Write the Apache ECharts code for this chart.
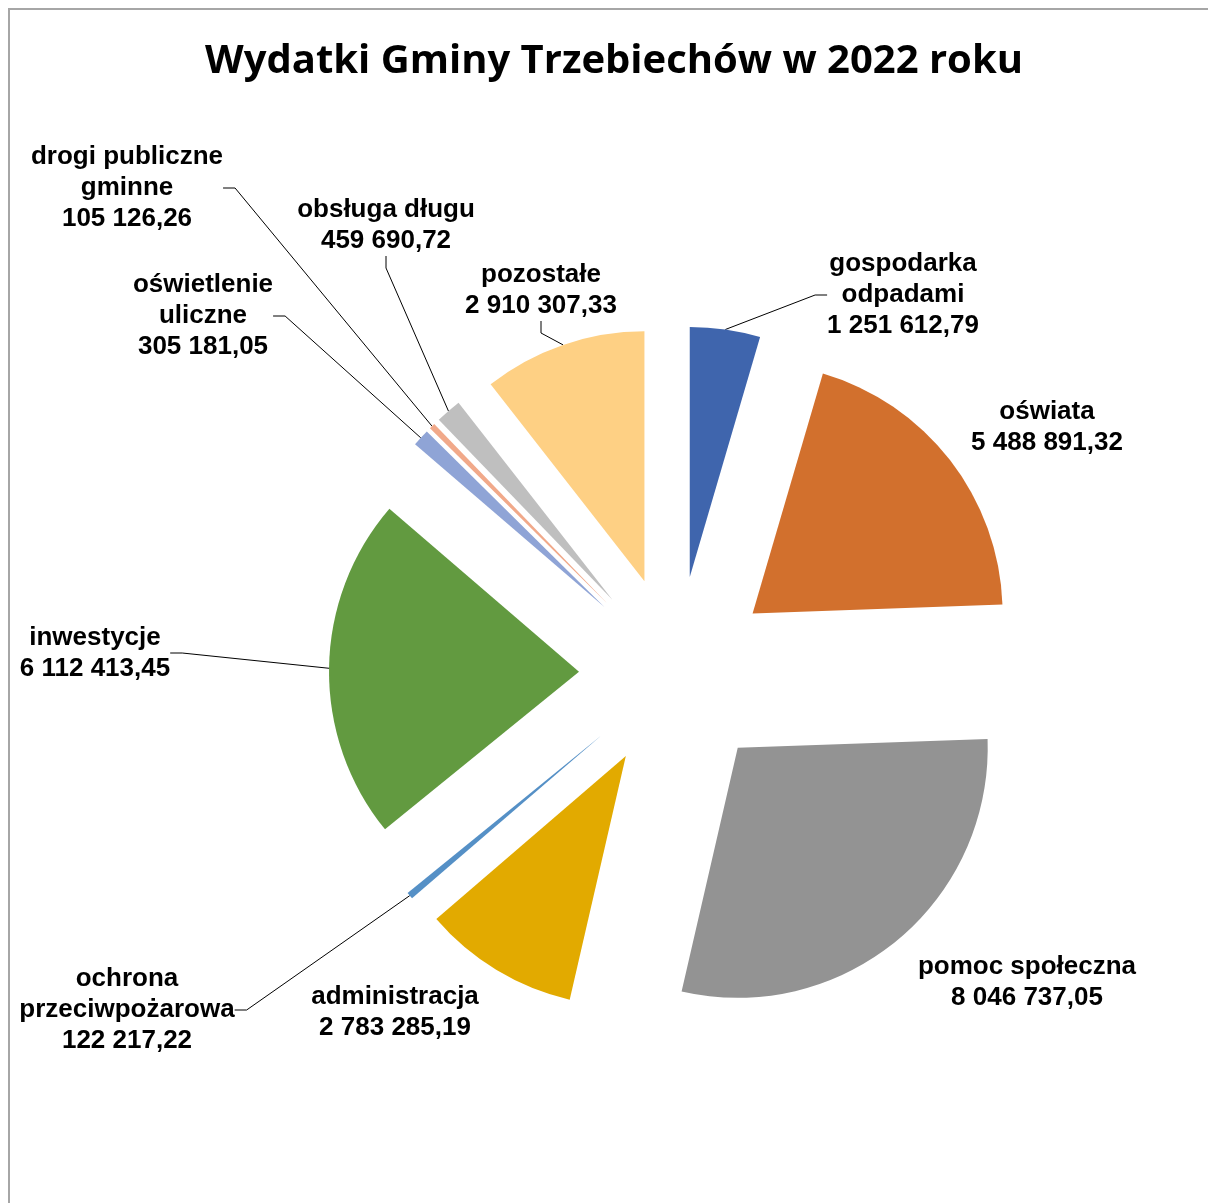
<!DOCTYPE html>
<html>
<head>
<meta charset="utf-8">
<script src="https://cdn.jsdelivr.net/npm/echarts@6/dist/echarts.min.js"></script>
<style>
html, body { margin: 0; padding: 0; background: #fff; }
#main { width: 1208px; height: 1203px; }
</style>
</head>
<body>
<div id="main"></div>
<script>
// dane wydatków (kolejność zgodnie z ruchem wskazówek zegara od godz. 12)
const categories = [
	'gospodarka\nodpadami',
	'oświata',
	'pomoc społeczna',
	'administracja',
	'ochrona\nprzeciwpożarowa',
	'inwestycje',
	'oświetlenie\nuliczne',
	'drogi publiczne\ngminne',
	'obsługa długu',
	'pozostałe'
];
const values = [
	1251612.79, 5488891.32, 8046737.05, 2783285.19, 122217.22,
	6112413.45, 305181.05, 105126.26, 459690.72, 2910307.33
];
const colors = [
	'#3f65ad', '#d2702d', '#939393', '#e2aa00', '#5590c6',
	'#629a40', '#8fa4d6', '#f1a98a', '#bfbfbf', '#fed084'
];

// środki bloków etykiet
const labelSpots = [
	[903, 295], [1047, 427], [1027, 982], [395, 1012], [127, 1010],
	[95, 653], [203, 316], [127, 188], [386, 225], [541, 290]
];
// etykiety bez linii odniesienia
const noLeader = [1, 2, 3];

const pieCenter = [676, 673];
const pieRadius = 250;
const explode = 97;

function fmt(v) {
	let parts = v.toFixed(2).split('.');
	return parts[0].replace(/\B(?=(\d{3})+(?!\d))/g, ' ') + ',' + parts[1];
}

/**
 * jeden wycinek = jedna seria, przesunięta wzdłuż dwusiecznej (explode)
 */
function sliceSeries(i, total, before) {
	let mid = (before + values[i] / 2) / total * Math.PI * 2;
	return {
		type: 'pie',
		center: [pieCenter[0] + explode * Math.sin(mid), pieCenter[1] - explode * Math.cos(mid)],
		radius: pieRadius,
		startAngle: 90,
		clockwise: true,
		avoidLabelOverlap: false,
		silent: true,
		emphasis: { disabled: true },
		data: categories.map(function(name, j) {
			let own = j === i;
			return {
				name: name,
				value: values[j],
				itemStyle: { color: own ? colors[j] : 'rgba(0,0,0,0)', borderWidth: 0 },
				label: { show: own },
				labelLine: { show: own && noLeader.indexOf(j) < 0 }
			};
		}),
		label: {
			position: 'outer',
			formatter: function(p) {
				return p.name + '\n' + fmt(p.value);
			},
			fontFamily: 'Liberation Sans',
			fontWeight: 'bold',
			fontSize: 26,
			lineHeight: 31,
			color: '#000',
			align: 'center'
		},
		labelLine: {
			length2: 12,
			lineStyle: { color: '#000', width: 1 }
		},
		labelLayout: function(params) {
			let p = labelSpots[params.dataIndex];
			return {
				x: p[0],
				y: p[1],
				align: 'center',
				verticalAlign: 'middle'
			};
		}
	};
}

let total = values.reduce((a, b) => a + b, 0);
let series = [];
let before = 0;
for (let i = 0; i < values.length; i++) {
	series.push(sliceSeries(i, total, before));
	before += values[i];
}

var chart = echarts.init(document.getElementById('main'));
var option = {
	animation: false,
	graphic: [{
		type: 'rect',
		shape: { x: 9, y: 9, width: 1400, height: 1400 },
		style: { fill: 'none', stroke: '#a6a6a6', lineWidth: 2 },
		silent: true
	}, {
		type: 'text',
		x: 614,
		y: 62,
		style: {
			text: 'Wydatki Gminy Trzebiechów w 2022 roku',
			fontFamily: 'Open Sans',
			fontWeight: 'bold',
			fontSize: 40,
			fill: '#000',
			align: 'center',
			verticalAlign: 'middle'
		},
		silent: true
	}],
	series: series
};
chart.setOption(option);
</script>
</body>
</html>
